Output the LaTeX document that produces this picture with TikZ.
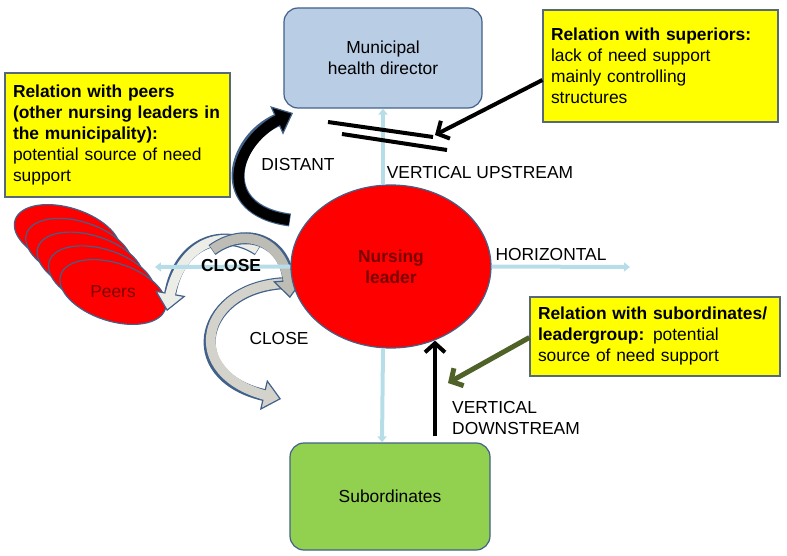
\documentclass[tikz,border=0pt]{standalone}
\usepackage{fontspec}
\setmainfont{Liberation Sans}
\usepackage{xcolor}
\usepackage{tikz}
\usetikzlibrary{arrows.meta, shapes.geometric, calc}
\definecolor{dirblue}{HTML}{B9CDE5}
\definecolor{edgeblue}{HTML}{41618A}
\definecolor{boxedge}{HTML}{56687A}
\definecolor{noteyellow}{HTML}{FFFF00}
\definecolor{linkblue}{HTML}{B7DEE8}
\definecolor{subgreen}{HTML}{92D050}
\definecolor{leadgreen}{HTML}{4F6228}
\definecolor{leadred}{HTML}{FF0000}
\definecolor{textred}{HTML}{7A0000}
\definecolor{palegrey}{HTML}{EDEDE8}
\definecolor{midgrey}{HTML}{BDBDB5}
\definecolor{softgrey}{HTML}{D3D3CC}
\newcommand{\bentarrow}[3]{%
  \draw[line width=#2pt, draw=edgeblue, -{Triangle[length=18pt,width=31pt,line width=1.2pt,fill=#1]}] #3;
  \draw[line width=#2pt-2.4pt, draw=#1, shorten >=11pt, shorten <=0.6pt] #3;}

\begin{document}
\begin{tikzpicture}[x=1pt, y=-1pt,
  every node/.style={font=\fontsize{17.4}{21}\selectfont},
  dirbox/.style    = {rectangle, rounded corners=14pt, draw=edgeblue, fill=dirblue, line width=1.2pt, minimum width=198pt, minimum height=100pt, align=center},
  subbox/.style    = {dirbox, fill=subgreen, minimum width=200pt, minimum height=107pt},
  notebox/.style   = {rectangle, draw=boxedge, fill=noteyellow, line width=1.2pt, align=left, inner xsep=8pt},
  leadnode/.style  = {ellipse, draw=edgeblue, fill=leadred, line width=1.2pt, minimum width=200pt, minimum height=163pt, align=center, text=textred, font=\fontsize{17.4}{21}\selectfont\bfseries},
  peernode/.style  = {ellipse, draw=edgeblue, fill=leadred, line width=1.2pt, minimum width=110pt, minimum height=58pt, rotate=-18, inner sep=0pt},
  lbl/.style       = {align=left, inner sep=0pt},
  link/.style      = {draw=linkblue, line width=4pt, -{Triangle[length=6pt,width=9pt]}},
  blackarrow/.style= {line width=4pt, -{Straight Barb[length=9pt,width=20pt]}},
  greenarrow/.style= {blackarrow, draw=leadgreen, line width=5pt},
  breakline/.style = {line width=4pt}
]
\useasboundingbox (0,0) rectangle (787,556);

%% PEERS: stack of ellipses
\foreach \k in {4,3,2,1}
  \node[peernode] (peer\k) at ({113-11.4*\k},{292-13.75*\k}) {};
\node[peernode] (peer0) at (113,292) {};
\node[text=textred] (peerlbl) at (113,292) {Peers};

%% CURVED ARROWS
\bentarrow{softgrey}{12}{(288,283) .. controls (200,285) and (178,375) .. (281,399)}
\bentarrow{palegrey}{12}{(258,250) .. controls (225,228) and (180,240) .. (167,311)}
\bentarrow{midgrey}{12}{(212,250) .. controls (245,226) and (285,240) .. (290,298)}
\bentarrow{black}{13}{(290,220) .. controls (213,210) and (233,140) .. (293,113)}

%% MAIN NODES
\node[dirbox]   (director) at (383,58)    {Municipal\\health director};
\node[leadnode] (leader)   at (391,266.5) {Nursing\\leader};
\node[subbox]   (subord)   at (390,496.5) {Subordinates};

\node[notebox, minimum width=235pt, minimum height=112pt, text width=219pt] (supnote) at (660.5,66)
  {\textbf{Relation with superiors:}\\lack of need support\\mainly controlling\\structures};
\node[notebox, minimum width=225pt, minimum height=124pt, text width=209pt] (peernote) at (117.5,135)
  {\textbf{Relation with peers}\\\textbf{(other nursing leaders in}\\\textbf{the municipality):}\\potential source of need\\support};
\node[notebox, minimum width=250pt, minimum height=79pt, text width=234pt] (subnote) at (655,336.5)
  {\textbf{Relation with subordinates/}\\\textbf{leadergroup:} potential\\source of need support};

%% LINKS
\coordinate (hend)      at (630,267);
\coordinate (peertip)   at (155,267);
\coordinate (breaktip)  at (435,135);
\coordinate (greentip)  at (448,383);

\draw[link] (director.south |- leader.north) -- (director.south);
\draw[link] ([xshift=-8pt]leader.south) -- ([xshift=-8pt]subord.north);
\draw[link] (leader.east) -- (hend);
\draw[link] (leader.west) -- (peertip);

\draw[breakline] (328,122) -- (433,137);
\draw[breakline] (342,134) -- (447,150);
\draw[blackarrow] ([yshift=-14pt]supnote.west) -- (breaktip);
\draw[blackarrow] ([xshift=45pt,yshift=6pt]subord.north) -- ([xshift=44pt,yshift=8pt]leader.south);
\draw[greenarrow] ([yshift=-1pt]subnote.west) -- (greentip);

%% LABELS
\node (distant)  at (298,165) {DISTANT};
\node (upstream) at (480,173) {VERTICAL UPSTREAM};
\node (horiz)    at (551,255) {HORIZONTAL};
\node[font=\fontsize{17.4}{21}\selectfont\bfseries] (closeup) at (231,266) {CLOSE};
\node (closelow) at (279,339) {CLOSE};
\node[lbl, anchor=west] (downstream) at (452,418.5) {VERTICAL\\DOWNSTREAM};
\end{tikzpicture}
\end{document}
